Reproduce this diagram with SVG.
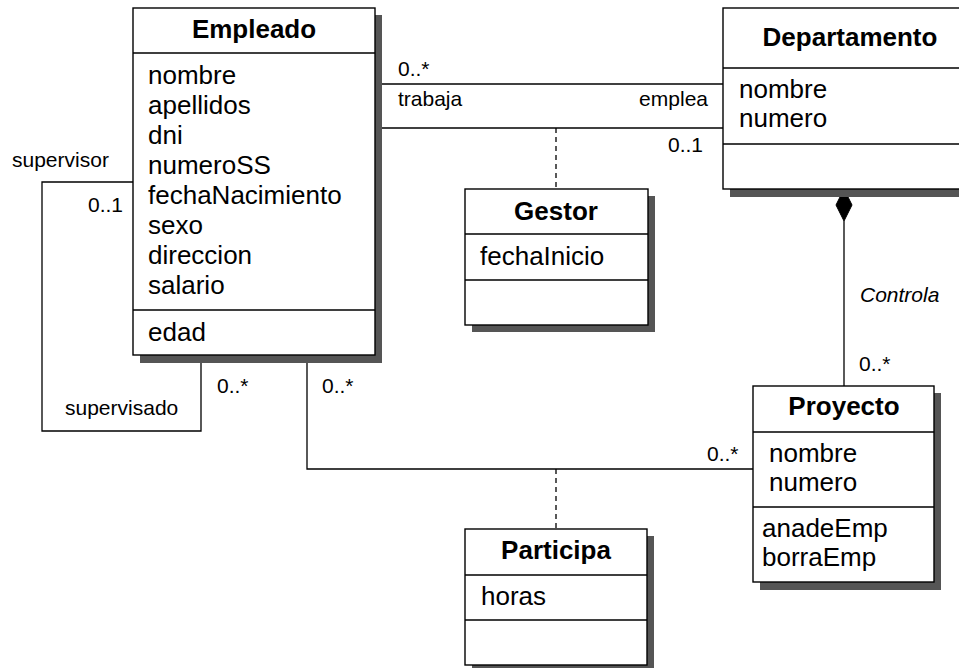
<svg xmlns="http://www.w3.org/2000/svg" width="959" height="668" viewBox="0 0 959 668">
<style>
.box{fill:#fff;stroke:#000;stroke-width:1.4}
.sh{fill:#555}
.ln{stroke:#000;stroke-width:1.3;fill:none}
.dash{stroke:#000;stroke-width:1.3;fill:none;stroke-dasharray:5,4}
.t{font-family:"Liberation Sans",Arial,sans-serif;font-size:26px;fill:#000}
.tb{font-family:"Liberation Sans",Arial,sans-serif;font-size:26px;font-weight:bold;fill:#000;text-anchor:middle}
.s{font-family:"Liberation Sans",Arial,sans-serif;font-size:21px;fill:#000}
</style>
<rect width="959" height="668" fill="#fff"/>
<g id="connectors">
<path class="ln" d="M375,84 H723"/>
<path class="ln" d="M375,128 H723"/>
<path class="dash" d="M556,128 V189"/>
<path class="ln" d="M133,182 H42 V431 H201 V355"/>
<path class="ln" d="M307,355 V469 H753"/>
<path class="dash" d="M556,469 V529"/>
<path class="ln" d="M844,221 V386"/>
<path d="M844,189 L852,205 L844,221 L836,205 Z" fill="#000" stroke="#000" stroke-width="1"/>
<text class="s" x="398" y="76">0..*</text>
<text class="s" x="398" y="106">trabaja</text>
<text class="s" x="708" y="106" text-anchor="end">emplea</text>
<text class="s" x="703" y="152" text-anchor="end">0..1</text>
<text class="s" x="12" y="167">supervisor</text>
<text class="s" x="88" y="212">0..1</text>
<text class="s" x="65" y="415">supervisado</text>
<text class="s" x="217" y="393">0..*</text>
<text class="s" x="322" y="393">0..*</text>
<text class="s" x="707" y="461">0..*</text>
<text class="s" x="860" y="302" font-style="italic">Controla</text>
<text class="s" x="859" y="371">0..*</text>
</g>
<g id="empleado">
<rect class="sh" x="140" y="15" width="242" height="348"/>
<rect class="box" x="133" y="8" width="242" height="347"/>
<path class="ln" d="M133,53 H375 M133,310 H375"/>
<text class="tb" x="254" y="38">Empleado</text>
<text class="t" x="148" y="84">nombre</text>
<text class="t" x="148" y="114">apellidos</text>
<text class="t" x="148" y="144">dni</text>
<text class="t" x="148" y="174">numeroSS</text>
<text class="t" x="148" y="204">fechaNacimiento</text>
<text class="t" x="148" y="234">sexo</text>
<text class="t" x="148" y="264">direccion</text>
<text class="t" x="148" y="294">salario</text>
<text class="t" x="148" y="341">edad</text>
</g>
<g id="departamento">
<rect class="sh" x="730" y="15" width="254" height="182"/>
<rect class="box" x="723" y="8" width="254" height="181"/>
<path class="ln" d="M723,68 H977 M723,144 H977"/>
<text class="tb" x="850" y="46">Departamento</text>
<text class="t" x="739" y="98">nombre</text>
<text class="t" x="739" y="127">numero</text>
</g>
<g id="gestor">
<rect class="sh" x="472" y="196" width="183" height="136"/>
<rect class="box" x="465" y="189" width="183" height="136"/>
<path class="ln" d="M465,234 H648 M465,280 H648"/>
<text class="tb" x="556" y="220">Gestor</text>
<text class="t" x="480" y="265">fechaInicio</text>
</g>
<g id="proyecto">
<rect class="sh" x="760" y="393" width="181" height="197"/>
<rect class="box" x="753" y="386" width="181" height="196"/>
<path class="ln" d="M753,432 H934 M753,507 H934"/>
<text class="tb" x="844" y="415">Proyecto</text>
<text class="t" x="769" y="462">nombre</text>
<text class="t" x="769" y="491">numero</text>
<text class="t" x="762" y="537">anadeEmp</text>
<text class="t" x="762" y="566">borraEmp</text>
</g>
<g id="participa">
<rect class="sh" x="472" y="536" width="182" height="137"/>
<rect class="box" x="465" y="529" width="182" height="136"/>
<path class="ln" d="M465,575 H647 M465,620 H647"/>
<text class="tb" x="556" y="559">Participa</text>
<text class="t" x="481" y="605">horas</text>
</g>
</svg>
